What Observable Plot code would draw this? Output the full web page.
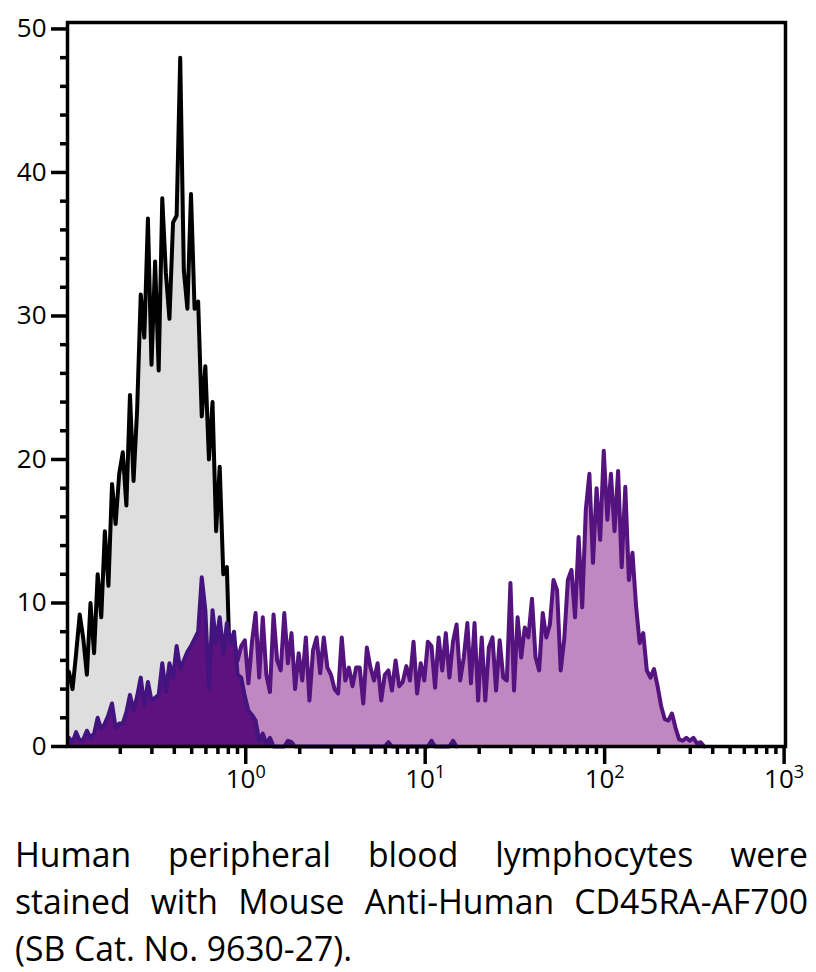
<!DOCTYPE html>
<html><head><meta charset="utf-8">
<script src="https://cdn.jsdelivr.net/npm/d3@7"></script>
<script src="https://cdn.jsdelivr.net/npm/@observablehq/plot@0.6"></script>
<style>
body{margin:0;background:#fff;width:816px;height:972px;overflow:hidden;font-family:"Open Sans",sans-serif;position:relative}
#chart svg{display:block}
#caption{position:absolute;left:15px;top:830px;font-size:35px;line-height:47px;color:#000}
.ln{white-space:nowrap;transform-origin:0 0}
</style></head><body>
<div id="chart"></div>
<div id="caption"></div>
<script>
// Histogram bins: evenly spaced in log10 of fluorescence
const binStartLog = -0.985;
const binStepLog = 0.02;

// Isotype control (grey), bins 0..47
const isotypeCounts = [5.2, 4.0, 6.5, 9.2, 7.5, 5.0, 10.0, 6.5, 12.0, 9.0, 15.0, 11.2, 18.3, 15.5, 19.0, 20.5, 16.8, 24.5, 18.5, 23.5, 31.5, 28.5, 36.8, 26.6, 33.8, 26.2, 38.2, 33.0, 29.8, 36.5, 37.0, 48.0, 33.2, 30.5, 38.5, 30.5, 31.0, 23.0, 26.5, 20.0, 24.0, 15.0, 19.5, 12.0, 12.5, 4.0, 0.8, 0];
const isotypeFirstBin = 0;

// Stained, negative population (dark purple), bins 0..108
const negativeCounts = [0.6, 0.3, 1.0, 0.4, 0.5, 1.1, 0.6, 0.9, 2.0, 1.2, 1.6, 2.2, 3.0, 1.3, 1.6, 1.6, 2.4, 3.6, 2.5, 3.5, 4.8, 2.8, 4.5, 3.2, 3.4, 3.6, 5.8, 3.8, 5.8, 4.8, 7.0, 5.4, 6.0, 6.6, 7.0, 7.5, 8.0, 11.8, 9.5, 4.0, 9.5, 7.2, 9.0, 6.5, 8.6, 7.2, 8.0, 5.0, 4.8, 3.5, 2.5, 2.2, 1.8, 0.4, 0.9, 0.2, 0.6, 0, 0, 0, 0, 0.4, 0.3, 0, 0, 0, 0, 0, 0, 0, 0, 0, 0, 0, 0, 0, 0, 0, 0, 0, 0, 0, 0, 0, 0, 0, 0, 0, 0, 0.3, 0, 0, 0, 0, 0, 0, 0, 0, 0, 0, 0, 0.4, 0, 0, 0, 0, 0, 0.4, 0];
const negativeFirstBin = 0;

// Stained, CD45RA-AF700 (light purple), bins 42..177
const stainedCounts = [8.0, 8.0, 7.5, 7.0, 7.4, 6.0, 7.0, 7.4, 4.4, 7.3, 9.3, 4.8, 9.0, 5.0, 3.8, 9.2, 6.0, 5.3, 9.3, 5.8, 7.9, 4.0, 6.5, 4.6, 7.6, 3.2, 6.7, 7.6, 5.1, 7.6, 5.5, 5.0, 4.0, 3.7, 7.6, 4.6, 5.5, 4.2, 5.5, 5.5, 3.0, 6.9, 5.5, 4.6, 5.8, 3.2, 5.0, 5.3, 3.9, 6.0, 4.2, 4.5, 5.6, 4.6, 7.3, 3.7, 5.8, 4.6, 7.3, 7.0, 4.1, 7.6, 5.3, 7.9, 4.8, 7.3, 8.5, 4.6, 6.2, 8.6, 4.4, 8.6, 3.2, 7.6, 3.2, 6.9, 7.6, 3.9, 7.4, 4.8, 4.6, 11.4, 3.9, 9.0, 6.2, 8.3, 7.6, 10.3, 6.2, 5.3, 9.3, 7.6, 8.5, 11.6, 10.9, 5.3, 7.5, 11.6, 12.3, 9.0, 14.6, 9.7, 16.5, 19.0, 12.8, 18.0, 14.4, 20.6, 15.8, 19.0, 15.0, 19.2, 12.5, 18.1, 11.6, 13.5, 9.8, 7.2, 7.9, 5.3, 4.8, 5.4, 4.2, 2.8, 1.9, 1.8, 2.3, 1.3, 0.5, 0.4, 0.6, 0.4, 0.6, 0.2, 0.3, 0];
const stainedFirstBin = 42;

// Axes
const xDomain = [0.1016, 1018];
const yDomain = [0, 50.45];
const xTickValues = [1, 10, 100, 1000];
const xTickBases = ["10", "10", "10", "10"];
const xTickExponents = ["0", "1", "2", "3"];
const xMinorTicks = [0.2, 0.3, 0.4, 0.5, 0.6, 0.7, 0.8, 0.9, 2, 3, 4, 5, 6, 7, 8, 9, 20, 30, 40, 50, 60, 70, 80, 90, 200, 300, 400, 500, 600, 700, 800, 900];
const yTickValues = [0, 10, 20, 30, 40, 50];
const yMinorTicks = [2, 4, 6, 8, 12, 14, 16, 18, 22, 24, 26, 28, 32, 34, 36, 38, 42, 44, 46, 48];

const captionLines = [
  "Human peripheral blood lymphocytes were",
  "stained with Mouse Anti-Human CD45RA-AF700",
  "(SB Cat. No. 9630-27)."
];

const toBins = (counts, first) => counts.map((count, i) => ({value: 10 ** (binStartLog + (first + i) * binStepLog), count}));
const isotype = toBins(isotypeCounts, isotypeFirstBin);
const negative = toBins(negativeCounts, negativeFirstBin);
const stained = toBins(stainedCounts, stainedFirstBin);

const enc = {x: "value", y: "count"};
const LW = 4;
const chart = Plot.plot({
  width: 816, height: 810,
  marginLeft: 67, marginRight: 31, marginTop: 22, marginBottom: 64,
  x: {type: "log", domain: xDomain},
  y: {domain: yDomain},
  style: {fontFamily: "'Open Sans', sans-serif", fontSize: "26px", color: "#000", background: "#fff"},
  marks: [
    Plot.areaY(stained, {...enc, fill: "#c088c0"}),
    Plot.lineY(stained, {...enc, stroke: "#55137f", strokeWidth: LW}),
    Plot.areaY(isotype, {...enc, fill: "#dedede"}),
    Plot.lineY(isotype, {...enc, stroke: "#000", strokeWidth: LW}),
    Plot.areaY(negative, {...enc, fill: "#5e1280"}),
    Plot.lineY(negative, {...enc, stroke: "#43137f", strokeWidth: LW}),
    Plot.axisY({ticks: yMinorTicks, tickSize: 7, strokeWidth: 3.5, fill: "none", label: null}),
    Plot.axisY({ticks: yTickValues, tickSize: 16, tickPadding: 5, strokeWidth: 3.5, fontSize: 26, tickFormat: d => String(d), label: null}),
    Plot.axisX({ticks: xMinorTicks, tickSize: 8, strokeWidth: 3.5, fill: "none", label: null}),
    Plot.axisX({ticks: xTickValues, tickSize: 18, tickPadding: 5, strokeWidth: 3.5, fontSize: 26,
      tickFormat: d => xTickBases[xTickValues.indexOf(d)] + "^" + xTickExponents[xTickValues.indexOf(d)], label: null}),
    Plot.frame({stroke: "#000", strokeWidth: 3.5})
  ]
});
document.getElementById("chart").appendChild(chart);

// Render "10^n" tick labels with a real superscript
chart.querySelectorAll("text").forEach(t => {
  const s = t.textContent;
  if (!s.includes("^")) return;
  const [base, exp] = s.split("^");
  const tgt = t.querySelector("tspan") || t;
  tgt.textContent = base;
  const sup = document.createElementNS("http://www.w3.org/2000/svg", "tspan");
  sup.textContent = exp;
  sup.setAttribute("font-size", "18");
  sup.setAttribute("dy", "-10");
  tgt.appendChild(sup);
});

// Caption: justified lines, horizontally condensed to match the reference
const cap = document.getElementById("caption");
const spans = captionLines.map(t => {
  const d = document.createElement("div");
  d.className = "ln";
  const s = document.createElement("span");
  s.textContent = t;
  d.appendChild(s);
  cap.appendChild(d);
  return [d, s];
});
const w2 = spans[1][1].getBoundingClientRect().width;
const w3 = spans[2][1].getBoundingClientRect().width;
const sc = Math.min(337 / w3, 793 / w2);
spans.forEach(([d, s], i) => {
  d.style.transform = `scaleX(${sc})`;
  if (i < 2) {
    d.style.width = (793 / sc) + "px";
    d.style.textAlign = "justify";
    d.style.textAlignLast = "justify";
    d.style.whiteSpace = "normal";
  }
});
</script>
</body></html>
